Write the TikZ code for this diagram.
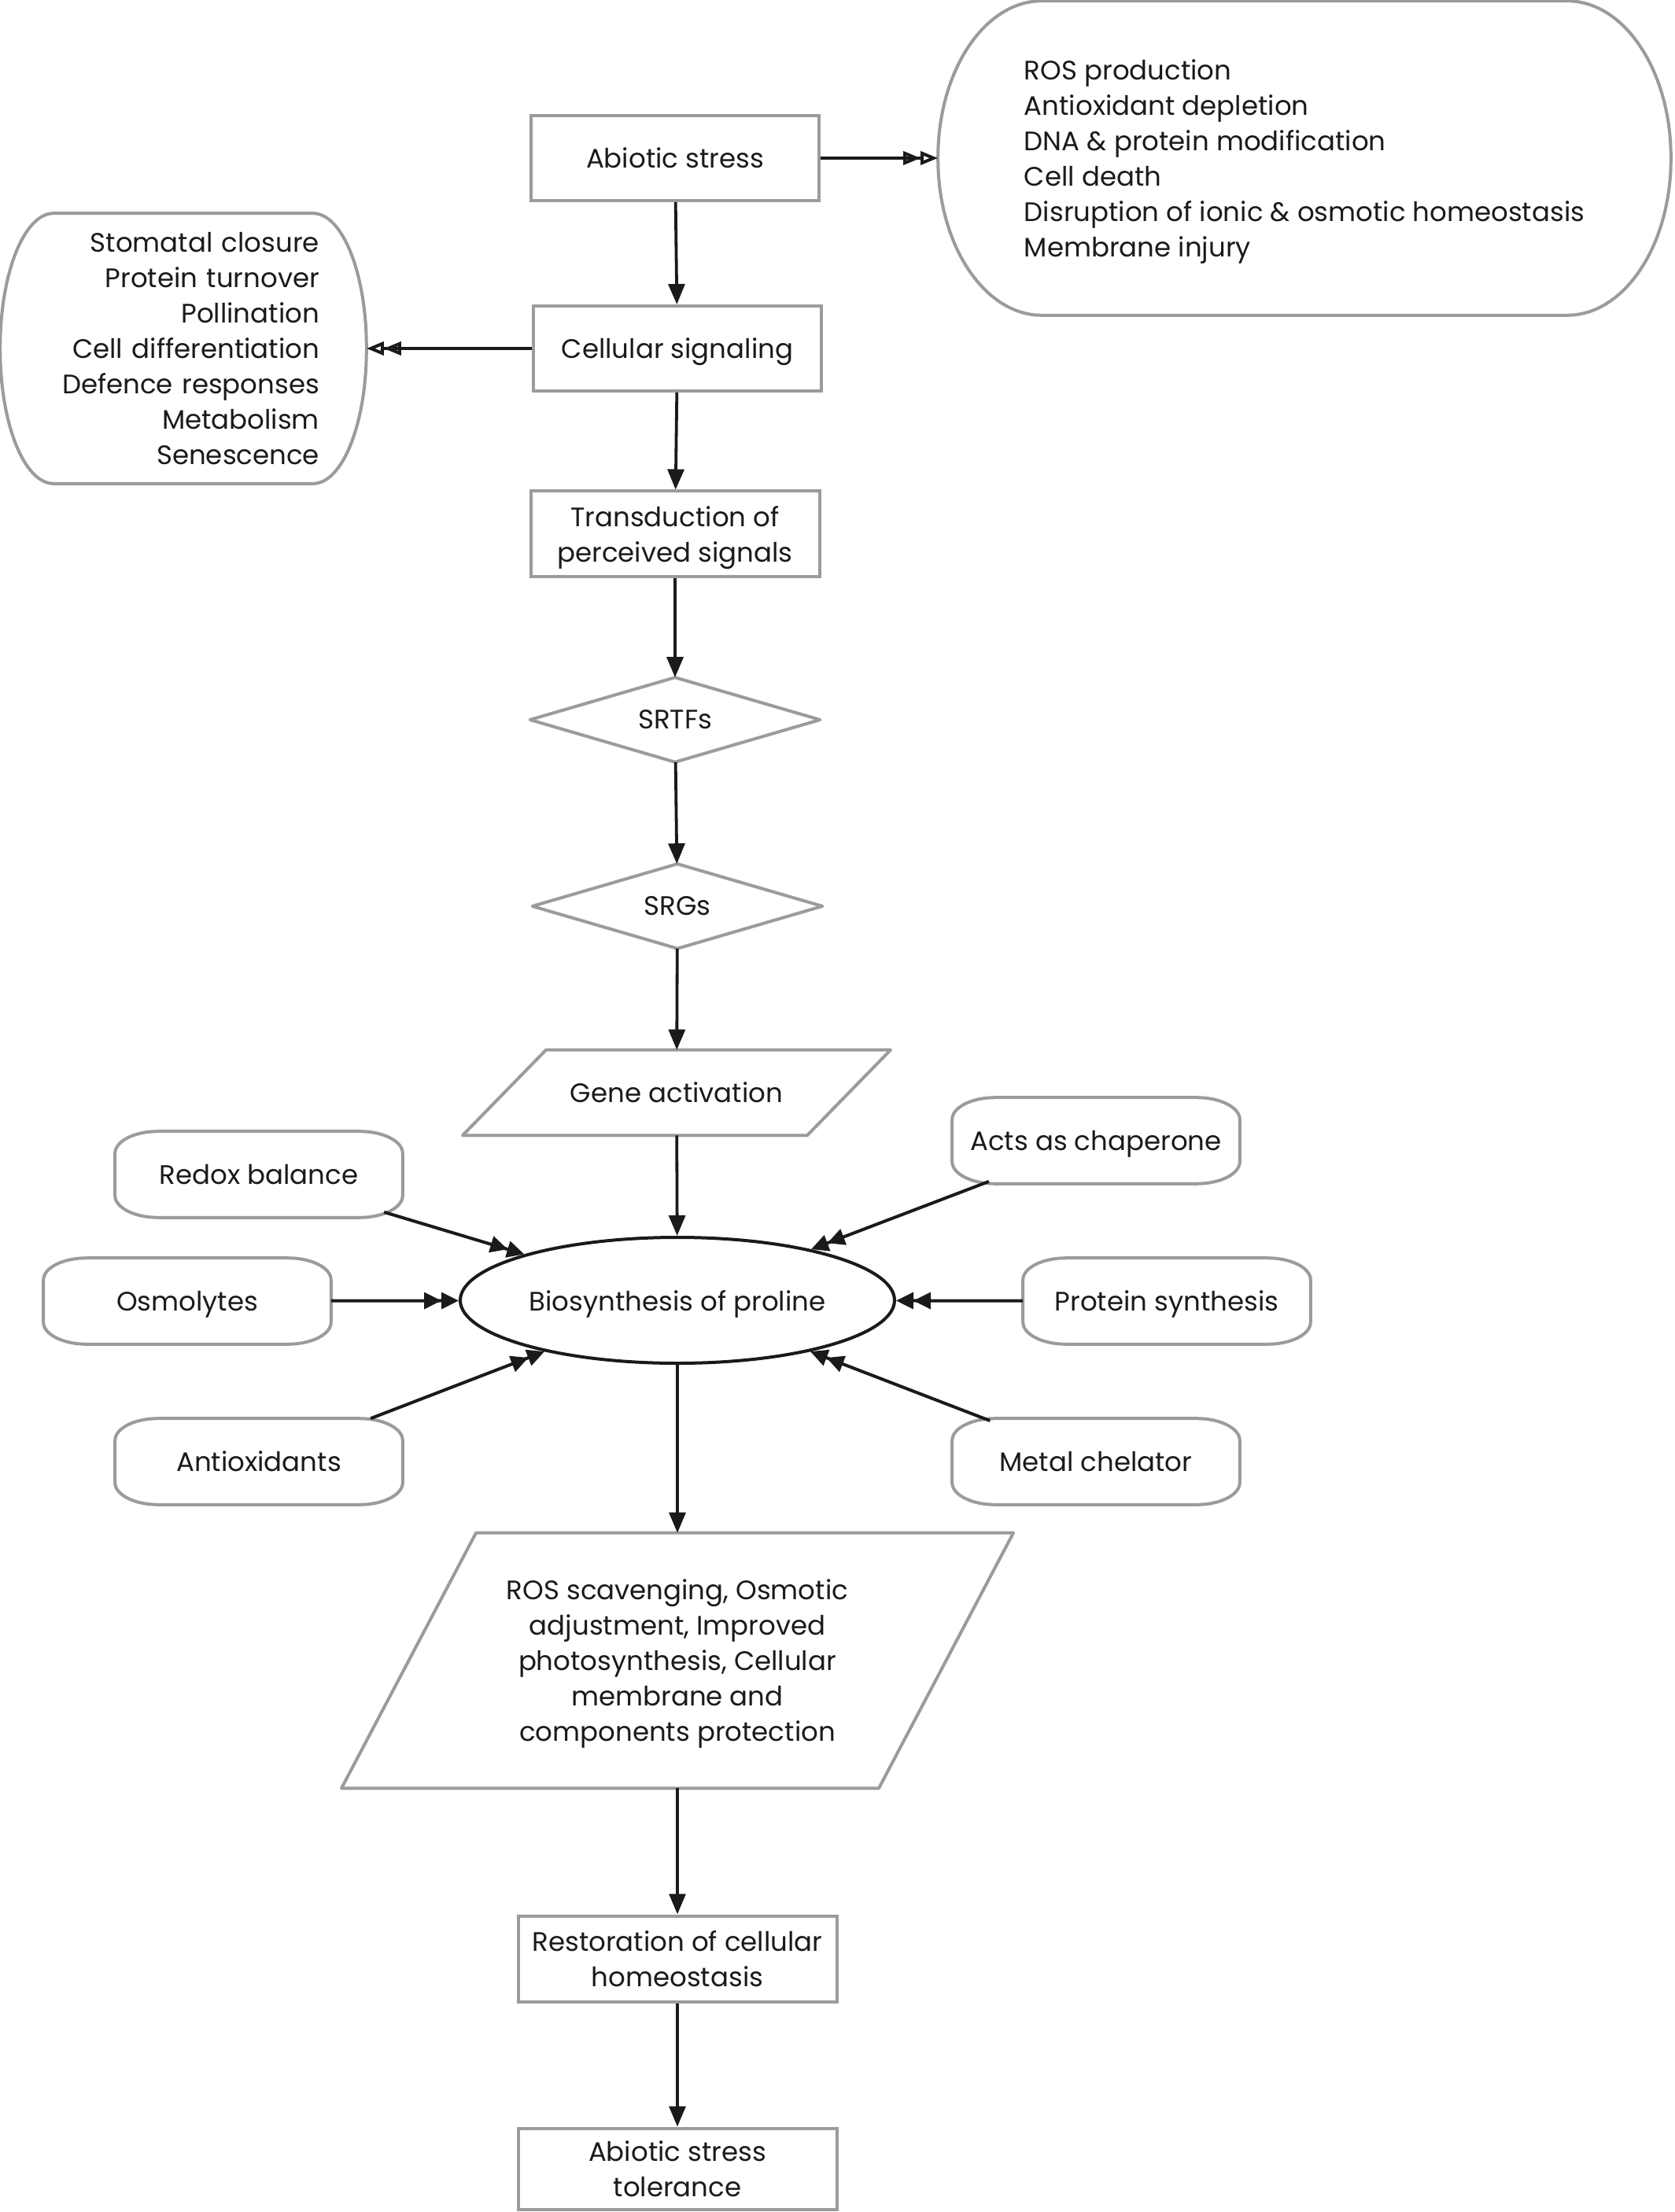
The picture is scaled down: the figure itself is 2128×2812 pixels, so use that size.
\documentclass[tikz,border=0pt]{standalone}
\usepackage{fontspec}
\setmainfont{Poppins}
\usetikzlibrary{arrows.meta,calc,shapes.geometric}
\definecolor{boxgray}{RGB}{155,155,155}
\definecolor{ink}{RGB}{26,26,26}
\newcommand\px{0.25pt}
\newcommand\nd[1]{\raisebox{0pt}[\height][0pt]{#1}}
\newcommand\myebox[3]{\draw[boxline] ($(#1.north west)+(#2,0)$) -- ($(#1.north east)+(-#2,0)$) arc[start angle=90,end angle=0,x radius=#2,y radius=#3] -- ($(#1.south east)+(0,#3)$) arc[start angle=0,end angle=-90,x radius=#2,y radius=#3] -- ($(#1.south west)+(#2,0)$) arc[start angle=270,end angle=180,x radius=#2,y radius=#3] -- ($(#1.north west)+(0,-#3)$) arc[start angle=180,end angle=90,x radius=#2,y radius=#3] -- cycle;}
\tikzset{
  boxline/.style={draw=boxgray, line width=1pt, line join=round},
  txt/.style={font=\fontsize{8.5pt}{11.25pt}\selectfont, text=ink, align=center, inner sep=0pt},
  rectbox/.style={txt, draw=boxgray, line width=1pt},
  plain/.style={txt},
  arr/.style={draw=ink, line width=0.95pt, -{Triangle[length=6.5pt,width=5.2pt]}},
  darr/.style={draw=ink, line width=1pt, -{Triangle[length=5.5pt,width=5.2pt]Triangle[length=5.5pt,width=5.2pt]}},
  oarr/.style={draw=ink, line width=1pt, -{Triangle[open,length=5.5pt,width=4.2pt]Triangle[open,length=5.5pt,width=4.2pt]}},
}
\begin{document}
\begin{tikzpicture}[x=0.25pt,y=0.25pt]
\fill[white] (0,0) rectangle (2128,-2812);
\useasboundingbox (0,0) rectangle (2128,-2812);

% main column
\node[rectbox, minimum width=366*\px, minimum height=108*\px] (abs) at (858,-201) {Abiotic stress};
\node[rectbox, minimum width=366*\px, minimum height=108*\px] (cell) at (861,-443) {\nd{Cellular signaling}};
\node[rectbox, minimum width=367*\px, minimum height=109*\px] (trans) at (858,-679) {Transduction of\\\nd{perceived signals}};
\node[plain, minimum width=367*\px, minimum height=106*\px] (srtf) at (858,-915) {SRTFs};
\draw[boxline] (srtf.west) -- (srtf.north) -- (srtf.east) -- (srtf.south) -- cycle;
\node[plain, minimum width=367*\px, minimum height=106*\px] (srg) at (861,-1152) {SRGs};
\draw[boxline] (srg.west) -- (srg.north) -- (srg.east) -- (srg.south) -- cycle;
\node[plain, minimum width=546*\px, minimum height=107*\px] (gene) at (860,-1389) {Gene activation};
\draw[boxline] ($(gene.north)+(-166,0)$) -- ($(gene.north)+(272,0)$) -- ($(gene.south)+(166,0)$) -- ($(gene.south)+(-272,0)$) -- cycle;
\node[txt, ellipse, draw=ink, line width=1pt, minimum width=552*\px, minimum height=160*\px] (ell) at (861,-1653) {\nd{Biosynthesis of proline}};
\node[plain, minimum width=853*\px, minimum height=323*\px] (big) at (861,-2111) {ROS scavenging, Osmotic\\adjustment, Improved\\photosynthesis, Cellular\\membrane and\\\nd{components protection}};
\draw[boxline] ($(big.north)+(-256,0)$) -- ($(big.north)+(427,0)$) -- ($(big.south)+(256,0)$) -- ($(big.south)+(-427,0)$) -- cycle;
\node[rectbox, minimum width=405*\px, minimum height=109*\px] (rest) at (861,-2490) {Restoration of cellular\\homeostasis};
\node[rectbox, minimum width=405*\px, minimum height=103*\px] (tol) at (861,-2757) {Abiotic stress\\tolerance};

% side lists
\node[txt, align=left, minimum width=930*\px, minimum height=398*\px] (rs) at (1658,-201) {ROS production\\Antioxidant depletion\\DNA \& protein modification\\Cell death\\Disruption of ionic \& osmotic homeostasis\\\nd{Membrane injury}};
\myebox{rs}{132}{199}
\node[txt, align=right, text width=346*\px, minimum width=464*\px, minimum height=342*\px] (ls) at (233,-443) {Stomatal closure\\Protein turnover\\Pollination\\Cell differentiation\\Defence responses\\Metabolism\\Senescence};
\myebox{ls}{68}{171}

% satellites
\node[plain, minimum width=364*\px, minimum height=108*\px] (redox) at (329,-1493) {Redox balance};
\myebox{redox}{55}{28}
\node[plain, minimum width=364*\px, minimum height=108*\px] (osmo) at (238,-1654) {\nd{Osmolytes}};
\myebox{osmo}{55}{28}
\node[plain, minimum width=364*\px, minimum height=108*\px] (anti) at (329,-1858) {Antioxidants};
\myebox{anti}{55}{28}
\node[plain, minimum width=364*\px, minimum height=108*\px] (chap) at (1393,-1450) {\nd{Acts as chaperone}};
\myebox{chap}{55}{28}
\node[plain, minimum width=364*\px, minimum height=108*\px] (prot) at (1483,-1654) {\nd{Protein synthesis}};
\myebox{prot}{55}{28}
\node[plain, minimum width=364*\px, minimum height=108*\px] (metal) at (1393,-1858) {Metal chelator};
\myebox{metal}{55}{28}

% connectors
\draw[arr] (abs) -- (cell);
\draw[arr] (cell) -- (trans);
\draw[arr] (trans) -- (srtf);
\draw[arr] (srtf) -- (srg);
\draw[arr] (srg) -- (gene);
\draw[arr] (gene) -- (ell);
\draw[arr] (ell) -- (big);
\draw[arr] (big) -- (rest);
\draw[arr] (rest) -- (tol);
\draw[oarr] (abs) -- (rs);
\draw[oarr] (cell) -- (ls);
\draw[darr, shorten <=-6pt] (redox) -- (ell);
\draw[darr] (osmo) -- (ell);
\draw[darr] (anti) -- (ell);
\draw[darr, shorten <=-2pt] (chap) -- (ell);
\draw[darr] (prot) -- (ell);
\draw[darr, shorten <=-2pt] (metal) -- (ell);
\end{tikzpicture}
\end{document}
